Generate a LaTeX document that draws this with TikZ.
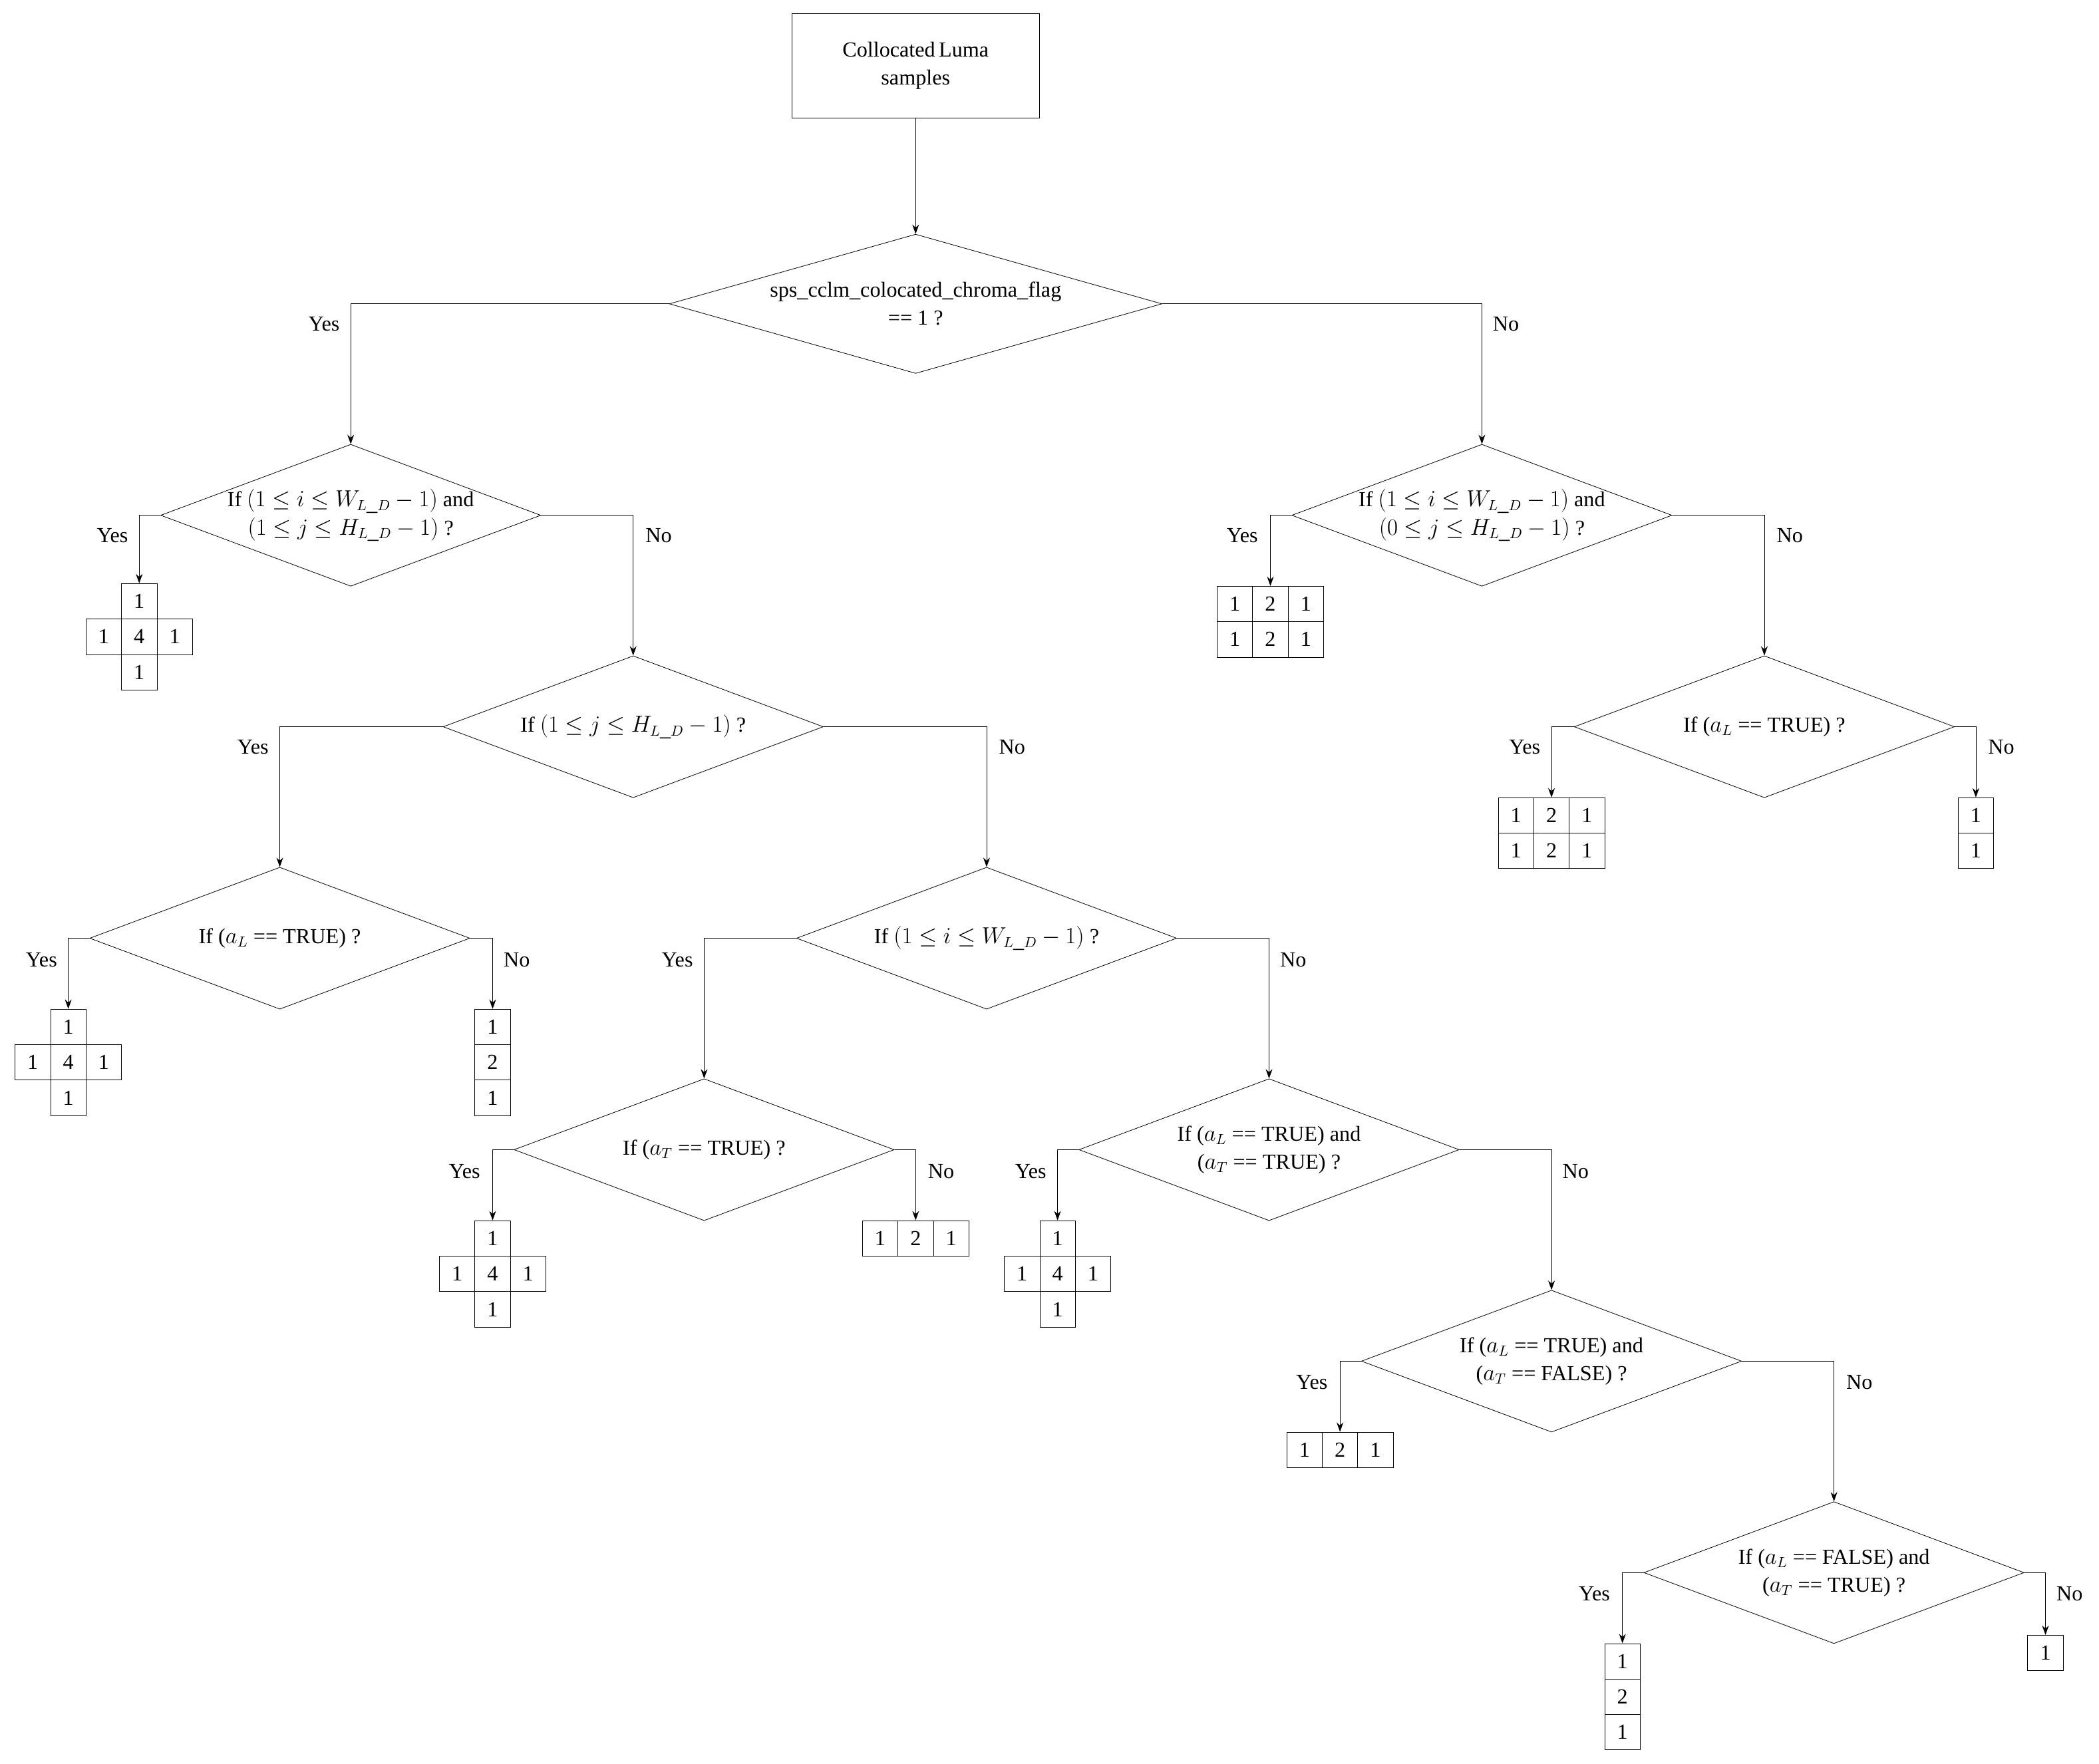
\documentclass[tikz,border=0pt]{standalone}
\usepackage{fontspec}
\setmainfont{Liberation Serif}
\usetikzlibrary{shapes.geometric,arrows.meta}
\tikzset{
 dia/.style={diamond,draw,minimum width=284pt,minimum height=106pt,inner sep=0pt},
 dtxt/.style={align=center,inner sep=0pt},
 cell/.style={draw,minimum width=26.5pt,minimum height=26.5pt,inner sep=0pt},
 arr/.style={-{Stealth[length=7pt,width=5pt]}},
 lbl/.style={inner sep=0pt}
}
\newcommand\plusgrid[3]{%
 \node[cell] (#1) at (#2,#3+13.25) {1};
 \node[cell] at (#2-26.5,#3+39.75) {1};
 \node[cell] at (#2,#3+39.75) {4};
 \node[cell] at (#2+26.5,#3+39.75) {1};
 \node[cell] at (#2,#3+66.25) {1};}
\newcommand\vgrid[3]{%
 \node[cell] (#1) at (#2,#3+13.25) {1};
 \node[cell] at (#2,#3+39.75) {2};
 \node[cell] at (#2,#3+66.25) {1};}
\newcommand\hgrid[3]{%
 \node[cell] at (#2-26.5,#3+13.25) {1};
 \node[cell] (#1) at (#2,#3+13.25) {2};
 \node[cell] at (#2+26.5,#3+13.25) {1};}
\newcommand\twogrid[3]{%
 \node[cell] at (#2-26.5,#3+13.25) {1};
 \node[cell] (#1) at (#2,#3+13.25) {2};
 \node[cell] at (#2+26.5,#3+13.25) {1};
 \node[cell] at (#2-26.5,#3+39.75) {1};
 \node[cell] at (#2,#3+39.75) {2};
 \node[cell] at (#2+26.5,#3+39.75) {1};}
\begin{document}
\begin{tikzpicture}[x=1pt,y=-1pt,font=\fontsize{16}{21}\selectfont]
\useasboundingbox (0,0) rectangle (1568,1318);
\node[draw,minimum width=185pt,minimum height=78pt,align=center] (top) at (684,49) {Collocated\,Luma\\samples};
% diamonds
\node[dia,minimum width=368pt,minimum height=104pt] (d0) at (684,227) {};
\node[dtxt] at (d0) {sps\_cclm\_colocated\_chroma\_flag\\== 1 ?};
\node[dia] (d1) at (262,385) {};
\node[dtxt] at (d1) {If $(1 \le i \le W_{L\_D}-1)$ and\\$(1 \le j \le H_{L\_D}-1)$ ?};
\node[dia] (d2) at (1107,385) {};
\node[dtxt] at (d2) {If $(1 \le i \le W_{L\_D}-1)$ and\\$(0 \le j \le H_{L\_D}-1)$ ?};
\node[dia] (d3) at (473,543) {};
\node[dtxt] at (d3) {If $(1 \le j \le H_{L\_D}-1)$ ?};
\node[dia] (d4) at (209,701) {};
\node[dtxt] at (d4) {If ($a_L$ == TRUE) ?};
\node[dia] (d5) at (737,701) {};
\node[dtxt] at (d5) {If $(1 \le i \le W_{L\_D}-1)$ ?};
\node[dia] (d6) at (526,859) {};
\node[dtxt] at (d6) {If ($a_T$ == TRUE) ?};
\node[dia] (d7) at (948,859) {};
\node[dtxt] at (d7) {If ($a_L$ == TRUE) and\\($a_T$ == TRUE) ?};
\node[dia] (d8) at (1159,1017) {};
\node[dtxt] at (d8) {If ($a_L$ == TRUE) and\\($a_T$ == FALSE) ?};
\node[dia] (d9) at (1370,1175) {};
\node[dtxt] at (d9) {If ($a_L$ == FALSE) and\\($a_T$ == TRUE) ?};
\node[dia] (d10) at (1318,543) {};
\node[dtxt] at (d10) {If ($a_L$ == TRUE) ?};
% grids
\plusgrid{g1}{104}{436}
\plusgrid{g4}{51}{754}
\vgrid{g4n}{368}{754}
\plusgrid{g6}{368}{912}
\hgrid{g6n}{684}{912}
\plusgrid{g7}{790}{912}
\hgrid{g8}{1001}{1070}
\vgrid{g9}{1212}{1228}
\node[cell] (g9n) at (1528,1235) {1};
\twogrid{g2}{949}{438}
\twogrid{g10}{1159}{596}
\node[cell] (g10n) at (1476,609.25) {1};
\node[cell] at (1476,635.75) {1};
% connectors
\draw[arr] (top) -- (d0.north);
\draw[arr] (d0.west) -| (d1.north);
\draw[arr] (d0.east) -| (d2.north);
\draw[arr] (d1.west) -| (g1.north);
\draw[arr] (d1.east) -| (d3.north);
\draw[arr] (d3.west) -| (d4.north);
\draw[arr] (d3.east) -| (d5.north);
\draw[arr] (d4.west) -| (g4.north);
\draw[arr] (d4.east) -| (g4n.north);
\draw[arr] (d5.west) -| (d6.north);
\draw[arr] (d5.east) -| (d7.north);
\draw[arr] (d6.west) -| (g6.north);
\draw[arr] (d6.east) -| (g6n.north);
\draw[arr] (d7.west) -| (g7.north);
\draw[arr] (d7.east) -| (d8.north);
\draw[arr] (d8.west) -| (g8.north);
\draw[arr] (d8.east) -| (d9.north);
\draw[arr] (d9.west) -| (g9.north);
\draw[arr] (d9.east) -| (g9n.north);
\draw[arr] (d2.west) -| (g2.north);
\draw[arr] (d2.east) -| (d10.north);
\draw[arr] (d10.west) -| (g10.north);
\draw[arr] (d10.east) -| (g10n.north);
% labels
\node[lbl] at (242,242) {Yes}; \node[lbl] at (1125,242) {No};
\node[lbl] at (84,400) {Yes}; \node[lbl] at (492,400) {No};
\node[lbl] at (928,400) {Yes}; \node[lbl] at (1337,400) {No};
\node[lbl] at (189,558) {Yes}; \node[lbl] at (756,558) {No};
\node[lbl] at (1139,558) {Yes}; \node[lbl] at (1495,558) {No};
\node[lbl] at (31,717) {Yes}; \node[lbl] at (386,717) {No};
\node[lbl] at (506,717) {Yes}; \node[lbl] at (966,717) {No};
\node[lbl] at (347,875) {Yes}; \node[lbl] at (703,875) {No};
\node[lbl] at (770,875) {Yes}; \node[lbl] at (1177,875) {No};
\node[lbl] at (980,1033) {Yes}; \node[lbl] at (1389,1033) {No};
\node[lbl] at (1191,1191) {Yes}; \node[lbl] at (1546,1191) {No};
\end{tikzpicture}
\end{document}
